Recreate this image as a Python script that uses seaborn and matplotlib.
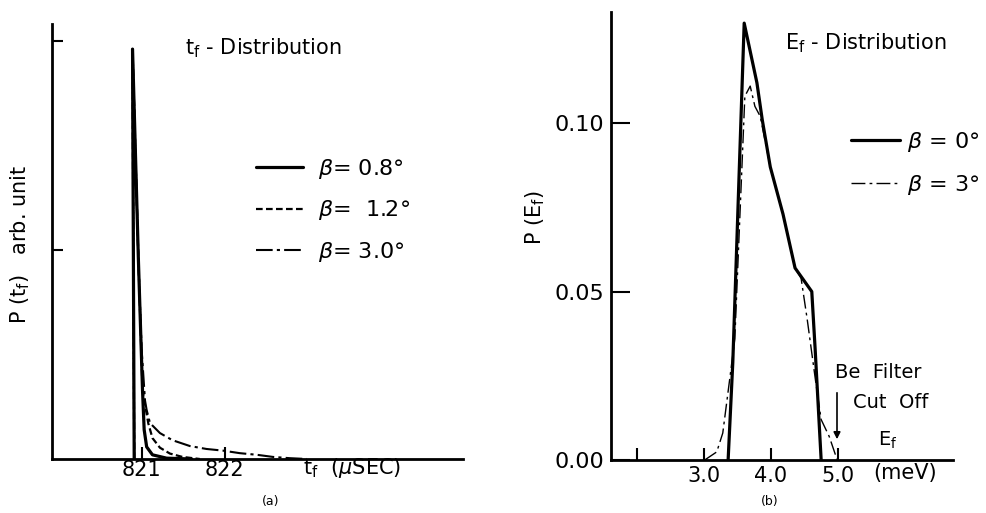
import numpy as np
import matplotlib
matplotlib.use("Agg")
import matplotlib.pyplot as plt
import pandas as pd
import seaborn as sns

# (a) t_f distribution, three beta values (rise at 820.9 then decay)
t_08 = [820.91, 820.89, 820.96, 821.01, 821.03, 821.06, 821.13, 821.30, 821.60]
p_08 = [0.0, 0.98, 0.48, 0.165, 0.07, 0.029, 0.010, 0.002, 0.0]

t_12 = [820.91, 820.89, 820.96, 821.01, 821.04, 821.08, 821.13, 821.22, 821.34, 821.49, 821.70]
p_12 = [0.0, 0.98, 0.48, 0.165, 0.13, 0.085, 0.05, 0.027, 0.013, 0.005, 0.0]

t_30 = [820.91, 820.89, 820.96, 821.00, 821.04, 821.06, 821.10, 821.22, 821.37, 821.58,
        821.78, 821.98, 822.18, 822.39, 822.58, 822.78, 822.99]
p_30 = [0.0, 0.98, 0.48, 0.26, 0.14, 0.117, 0.086, 0.062, 0.045, 0.031,
        0.024, 0.020, 0.014, 0.010, 0.005, 0.002, 0.0]

# (b) E_f distribution
e_0 = [3.36, 3.43, 3.60, 3.79, 3.87, 3.99, 4.18, 4.36, 4.61, 4.66, 4.75]
p_0 = [0.0, 0.029, 0.1297, 0.112, 0.101, 0.087, 0.073, 0.057, 0.050, 0.033, 0.0]

e_3 = [3.01, 3.19, 3.28, 3.39, 3.46, 3.61, 3.69, 3.76, 3.84, 3.99, 4.18, 4.36,
       4.45, 4.54, 4.67, 4.75, 4.87, 4.99]
p_3 = [0.0, 0.0024, 0.008, 0.025, 0.036, 0.108, 0.111, 0.105, 0.102, 0.087, 0.073, 0.057,
       0.054, 0.042, 0.023, 0.012, 0.007, 0.0]

sns.set_style("ticks")
plt.rcParams['font.family'] = ['DejaVu Sans']
plt.rcParams['mathtext.fontset'] = 'dejavusans'
plt.rcParams['text.color'] = 'black'
plt.rcParams['axes.edgecolor'] = 'black'
plt.rcParams['xtick.color'] = 'black'
plt.rcParams['ytick.color'] = 'black'

W, H = 986, 513
fig = plt.figure(figsize=(W / 100, H / 100), dpi=100)


def fx(x):
    return x / W


def fy(y):
    return 1 - y / H


ax1 = fig.add_axes([fx(52), fy(459), (463 - 52) / W, (459 - 24) / H])
ax2 = fig.add_axes([fx(611), fy(460), (953 - 611) / W, (460 - 12) / H])

df08 = pd.DataFrame({"t": t_08, "p": p_08})
df12 = pd.DataFrame({"t": t_12, "p": p_12})
df30 = pd.DataFrame({"t": t_30, "p": p_30})
sns.lineplot(data=df08, x="t", y="p", ax=ax1, color="black", lw=2.3, sort=False,
             estimator=None, label=r"$\beta$= 0.8°")
sns.lineplot(data=df12, x="t", y="p", ax=ax1, color="black", lw=1.6, sort=False,
             estimator=None, linestyle=(0, (3, 1.5)), label=r"$\beta$=  1.2°")
sns.lineplot(data=df30, x="t", y="p", ax=ax1, color="black", lw=1.5, sort=False,
             estimator=None, linestyle=(0, (8, 2, 1.5, 2)), label=r"$\beta$= 3.0°")

df0 = pd.DataFrame({"e": e_0, "p": p_0})
df3 = pd.DataFrame({"e": e_3, "p": p_3})
sns.lineplot(data=df0, x="e", y="p", ax=ax2, color="black", lw=2.3, sort=False,
             estimator=None, label=r"$\beta$ = 0°")
sns.lineplot(data=df3, x="e", y="p", ax=ax2, color="black", lw=1.0, sort=False,
             estimator=None, linestyle=(0, (10, 3, 2, 3)), label=r"$\beta$ = 3°")

for ax in (ax1, ax2):
    sns.despine(ax=ax)
    ax.spines["left"].set_linewidth(2)
    ax.spines["bottom"].set_linewidth(2)
    ax.set_xlabel("")
    ax.set_ylabel("")
    ax.tick_params(direction="in", width=1.5, colors="black", labelsize=15)

# panel (a)
ax1.set_xlim(819.92, 824.87)
ax1.set_ylim(0, 1.04)
ax1.set_xticks([821, 822])
ax1.set_xticklabels(["821", "822"])
ax1.set_yticks([0.5, 1.0])
ax1.set_yticklabels([])
ax1.tick_params(axis="x", length=9, pad=1)
ax1.tick_params(axis="y", length=8)
ax1.legend(loc="upper left", bbox_to_anchor=(fx(256), fy(157)), bbox_transform=fig.transFigure,
           frameon=False, fontsize=16, handlelength=2.1, handletextpad=0.7,
           labelspacing=0.78, borderpad=0, borderaxespad=0)

# panel (b)
ax2.set_xlim(1.61, 6.72)
ax2.set_ylim(0, 0.133)
ax2.set_xticks([2.0, 3.0, 4.0, 5.0])
ax2.set_xticklabels(["", "3.0", "4.0", "5.0"])
ax2.set_yticks([0.0, 0.05, 0.10])
ax2.set_yticklabels(["0.00", "0.05", "0.10"])
ax2.tick_params(axis="x", length=9, pad=4)
ax2.tick_params(axis="y", length=14, pad=5, labelsize=16)
ax2.legend(loc="upper left", bbox_to_anchor=(fx(851), fy(130)), bbox_transform=fig.transFigure,
           frameon=False, fontsize=16, handlelength=2.2, handletextpad=0.3,
           labelspacing=0.85, borderpad=0, borderaxespad=0)

# texts
fig.text(fx(185), fy(48), r"t$_\mathregular{f}$ - Distribution", fontsize=15, va="center")
fig.text(fx(20), fy(244), r"P (t$_\mathregular{f}$)   arb. unit", fontsize=15,
         rotation=90, ha="center", va="center")
fig.text(fx(303), fy(468), r"t$_\mathregular{f}$  ($\mu$SEC)", fontsize=15, va="center")
fig.text(fx(271), fy(502), "(a)", fontsize=9, ha="center", va="center")

fig.text(fx(785), fy(43), r"E$_\mathregular{f}$ - Distribution", fontsize=15, va="center")
fig.text(fx(535), fy(218), r"P (E$_\mathregular{f}$)", fontsize=15,
         rotation=90, ha="center", va="center")
fig.text(fx(873), fy(473), "(meV)", fontsize=15, va="center")
fig.text(fx(770), fy(502), "(b)", fontsize=9, ha="center", va="center")
fig.text(fx(835), fy(373), "Be  Filter", fontsize=14, va="center")
fig.text(fx(853), fy(403), "Cut  Off", fontsize=14, va="center")
fig.text(fx(878), fy(440), r"E$_\mathregular{f}$", fontsize=14, va="center")
fig.add_artist(matplotlib.patches.FancyArrowPatch(
    (fx(837), fy(390)), (fx(837), fy(442)), transform=fig.transFigure,
    arrowstyle="-|>", mutation_scale=10, color="black", lw=1.2))

fig.savefig("out.png", dpi=100)
